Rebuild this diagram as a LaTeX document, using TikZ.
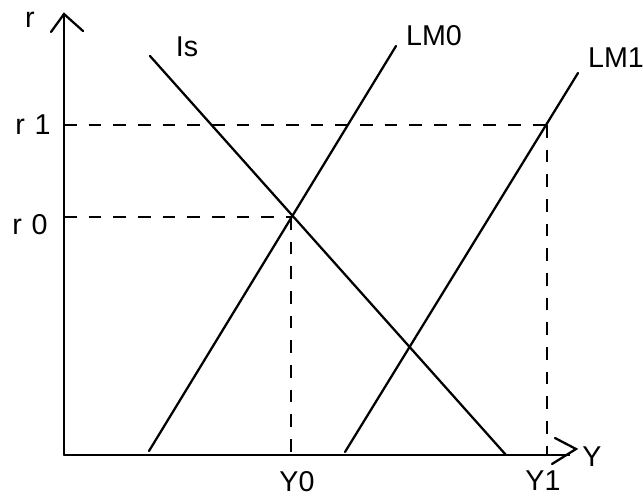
\documentclass[tikz,border=0pt]{standalone}
\usepackage{fontspec}
\setmainfont{Liberation Sans}
\begin{document}
\begin{tikzpicture}[x=0.75pt,y=-0.75pt,
  ln/.style={line width=1.7pt,line cap=round},
  dsh/.style={line width=1.7pt,dash pattern=on 9.5pt off 9pt},
  lbl/.style={font=\fontsize{21.5}{24}\selectfont,inner sep=0pt}]
\useasboundingbox (0,0) rectangle (643,497);
% axes
\coordinate (O) at (64,455);
\coordinate (ytop) at (64,14);
\coordinate (xend) at (570,455);
\draw[ln] (O) -- (ytop);
\draw[ln] (51,32) -- (ytop) -- (83,31);
\draw[ln,line cap=butt] (O) -- (xend);
\coordinate (xtip) at (576,449);
\draw[ln] (555,438) -- (xtip) -- (552,464);
% curves
\coordinate (is1) at (150,56);
\coordinate (is2) at (506,455);
\coordinate (lm0a) at (149,451);
\coordinate (lm0b) at (396,46);
\coordinate (lm1a) at (345,452);
\coordinate (lm1b) at (578,73);
\draw[ln] (is1) -- (is2);
\draw[ln] (lm0a) -- (lm0b);
\draw[ln] (lm1a) -- (lm1b);
% equilibrium points
\coordinate (E0) at (291,217);
\coordinate (E1) at (547,125);
\coordinate (r0a) at (64,217);
\coordinate (r1a) at (64,125);
\coordinate (y0a) at (291,455);
\coordinate (y1a) at (547,455);
\draw[dsh] (r0a) -- (E0);
\draw[dsh] (E0) -- (y0a);
\draw[dsh] (r1a) -- (E1);
\draw[dsh] (E1) -- (y1a);
% labels
\node[lbl] (lr) at (30,20) {r};
\node[lbl] (lis) at (187,47) {Is};
\node[lbl] (llm0) at (434,36) {LM0};
\node[lbl] (llm1) at (616,58) {LM1};
\node[lbl] (lr1) at (33,125) {r\,\,1};
\node[lbl] (lr0) at (30,225) {r\,\,0};
\node[lbl] (ly0) at (297,482) {Y0};
\node[lbl] (ly1) at (543,481) {Y1};
\node[lbl] (ly) at (592,457) {Y};
\end{tikzpicture}
\end{document}
